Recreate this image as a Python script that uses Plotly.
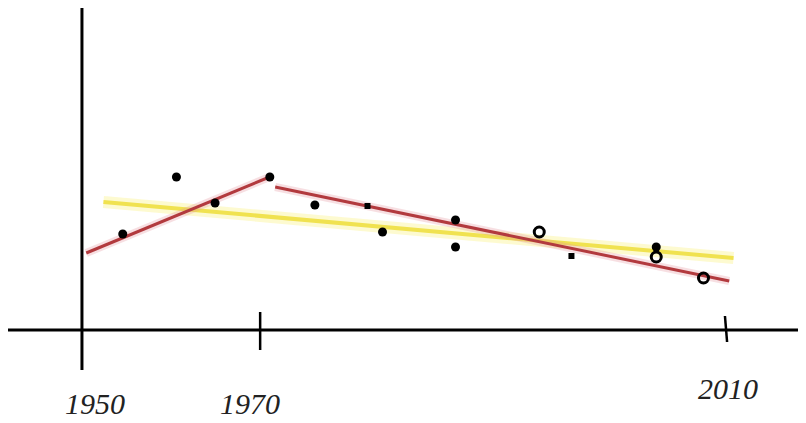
import plotly.graph_objects as go

# Hand-sketched chart: x in years (sketch scale), y in arbitrary units
filled_x = [1953.8, 1958.8, 1962.4, 1967.5, 1971.7, 1978.0, 1984.8, 1984.8, 2003.5]
filled_y = [9.6, 15.3, 12.7, 15.3, 12.5, 9.8, 11.0, 8.3, 8.3]
small_x = [1976.6, 1995.6]
small_y = [12.4, 7.4]
open_x = [1992.6, 2003.5, 2007.9]
open_y = [9.8, 7.3, 5.2]

trend1_x = [1950.4, 1967.7]
trend1_y = [7.7, 15.4]
trend2_x = [1968.0, 2010.3]
trend2_y = [14.3, 4.9]
overall_x = [1952.0, 2010.7]
overall_y = [12.8, 7.2]

tick_labels = ["1950", "1970", "2010"]
tick_label_x = [1951.2, 1965.65, 2010.14]
tick_label_y = [-7.3, -7.3, -5.8]

fig = go.Figure()

# yellow overall trend with soft glow
fig.add_trace(go.Scatter(x=overall_x, y=overall_y, mode="lines",
                         line=dict(color="rgba(250,240,120,0.35)", width=12),
                         hoverinfo="skip", showlegend=False))
fig.add_trace(go.Scatter(x=overall_x, y=overall_y, mode="lines",
                         line=dict(color="#f0e250", width=4),
                         showlegend=False))
# red segmented trends
for tx, ty in [(trend1_x, trend1_y), (trend2_x, trend2_y)]:
    fig.add_trace(go.Scatter(x=tx, y=ty, mode="lines",
                             line=dict(color="rgba(230,150,160,0.3)", width=8),
                             hoverinfo="skip", showlegend=False))
    fig.add_trace(go.Scatter(x=tx, y=ty, mode="lines",
                             line=dict(color="#b23a3e", width=3),
                             showlegend=False))

fig.add_trace(go.Scatter(x=filled_x, y=filled_y, mode="markers",
                         marker=dict(color="black", size=9, symbol="circle"),
                         showlegend=False))
fig.add_trace(go.Scatter(x=small_x, y=small_y, mode="markers",
                         marker=dict(color="black", size=6, symbol="square"),
                         showlegend=False))
fig.add_trace(go.Scatter(x=open_x, y=open_y, mode="markers",
                         marker=dict(color="black", size=10, symbol="circle-open",
                                     line=dict(width=3, color="black")),
                         showlegend=False))

# hand-drawn axes
shapes = [
    dict(type="line", x0=1943.1, x1=2017.5, y0=0, y1=0,
         line=dict(color="black", width=3)),
    dict(type="line", x0=1950, x1=1950, y0=-4.0, y1=32.2,
         line=dict(color="black", width=3)),
    dict(type="line", x0=1966.6, x1=1966.6, y0=-2.0, y1=1.8,
         line=dict(color="black", width=2.5)),
    dict(type="line", x0=2009.9, x1=2010.1, y0=1.4, y1=-1.2,
         line=dict(color="black", width=2.5)),
]
annotations = [
    dict(x=x, y=y, text="<i>" + t + "</i>", showarrow=False, xref="x", yref="y",
         font=dict(family="Liberation Serif", size=30, color="#222"),
         xanchor="center", yanchor="middle")
    for t, x, y in zip(tick_labels, tick_label_x, tick_label_y)
]

# page body has an 8px margin, so the figure is sized to fit the remaining window
fig.update_layout(
    width=798, height=415,
    margin=dict(l=0, r=0, t=0, b=0),
    paper_bgcolor="white", plot_bgcolor="white",
    shapes=shapes, annotations=annotations,
    xaxis=dict(range=[1943.11, 2017.45], showgrid=False, zeroline=False,
               showticklabels=False, showline=False, fixedrange=True),
    yaxis=dict(range=[-9.3, 32.2], showgrid=False, zeroline=False,
               showticklabels=False, showline=False, fixedrange=True),
)

fig.write_html("out.html")
